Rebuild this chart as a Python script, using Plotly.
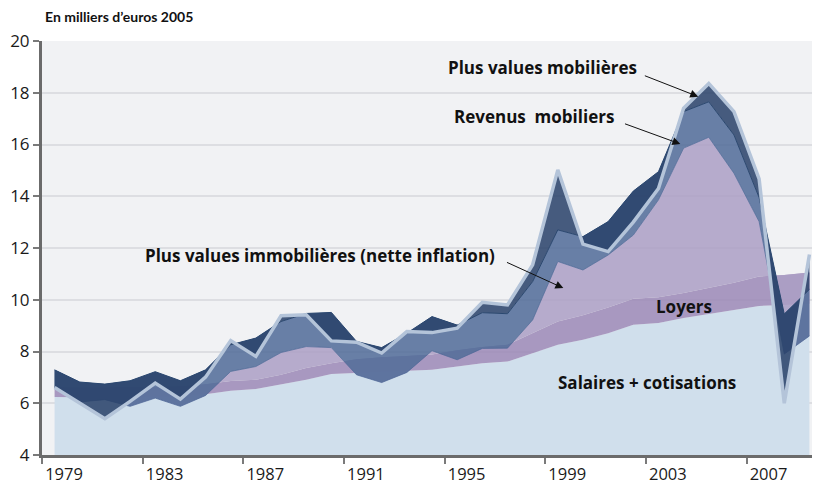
import plotly.graph_objects as go

years = list(range(1979, 2010))
salaires = [6.24, 6.22, 6.22, 6.24, 6.25, 6.26, 6.35, 6.48, 6.55, 6.72, 6.91, 7.13, 7.17, 7.20, 7.23, 7.29,
            7.42, 7.55, 7.61, 7.94, 8.26, 8.45, 8.71, 9.03, 9.10, 9.29, 9.44, 9.61, 9.76, 9.80, 9.85]
loyers = [0.37, 0.38, 0.38, 0.38, 0.38, 0.39, 0.38, 0.38, 0.36, 0.38, 0.45, 0.42, 0.53, 0.58, 0.60, 0.59,
          0.63, 0.62, 0.65, 0.76, 0.90, 0.95, 0.99, 1.01, 1.00, 0.97, 1.01, 1.05, 1.14, 1.16, 1.20]
pv_immo = [0.00, -0.55, -0.46, -0.74, -0.43, -0.77, -0.43, 0.37, 0.51, 0.86, 0.83, 0.60, -0.60, -0.98, -0.64, 0.15,
           -0.37, -0.05, -0.13, 0.52, 2.32, 1.75, 2.03, 2.46, 3.76, 5.60, 5.83, 4.23, 2.12, -3.06, -2.45]
rev_mob = [0.68, 0.77, 0.60, 0.99, 1.02, 0.99, 0.99, 1.03, 1.10, 1.20, 1.28, 1.36, 1.29, 1.35, 1.52, 1.32,
           1.34, 1.38, 1.33, 1.48, 1.22, 1.29, 1.29, 1.70, 1.09, 1.41, 1.37, 1.48, 0.93, 1.55, 1.80]
pv_mob = [-0.68, -0.81, -1.34, -0.80, -0.44, -0.71, -0.28, 0.16, -0.71, 0.22, -0.05, -1.10, -0.03, -0.21, 0.06, -0.62,
          -0.12, 0.40, 0.34, 0.65, 2.32, -0.29, -1.16, -1.20, -0.65, 0.13, 0.71, 0.90, 0.72, -3.45, 1.35]
tick_years = [1979, 1983, 1987, 1991, 1995, 1999, 2003, 2007]
y_ticks = [4, 6, 8, 10, 12, 14, 16, 18, 20]

total = [a + b + c + d + e for a, b, c, d, e in zip(salaires, loyers, pv_immo, rev_mob, pv_mob)]

FONT = "'Open Sans', sans-serif"
TFONT = "Lato, sans-serif"

fig = go.Figure()
fig.add_trace(go.Scatter(x=years, y=salaires, stackgroup="s", mode="lines",
                         line=dict(width=0, color="rgb(208,223,236)"), fillcolor="rgb(208,223,236)",
                         name="Salaires + cotisations"))
fig.add_trace(go.Scatter(x=years, y=loyers, stackgroup="s", mode="lines",
                         line=dict(width=0, color="rgba(155,136,182,0.85)"), fillcolor="rgba(155,136,182,0.85)",
                         name="Loyers"))
fig.add_trace(go.Scatter(x=years, y=pv_immo, stackgroup="s", mode="lines",
                         line=dict(width=0.8, color="rgba(76,103,150,0.9)"), fillcolor="rgba(172,159,196,0.85)",
                         name="Plus values immobilières"))
fig.add_trace(go.Scatter(x=years, y=rev_mob, stackgroup="s", mode="lines",
                         line=dict(width=1, color="rgb(43,72,112)"), fillcolor="rgba(80,107,152,0.85)",
                         name="Revenus mobiliers"))
fig.add_trace(go.Scatter(x=years, y=pv_mob, stackgroup="s", mode="lines",
                         line=dict(width=0, color="rgba(40,65,105,0.85)"), fillcolor="rgba(40,65,105,0.85)",
                         name="Plus values mobilières"))
fig.add_trace(go.Scatter(x=years, y=total, mode="lines",
                         line=dict(width=3.5, color="rgb(180,196,217)"), name="Total"))

annots = [
    dict(text="<b>Plus values mobilières</b>", x=1998.39, y=18.97),
    dict(text="<b>Revenus  mobiliers</b>", x=1998.04, y=17.1),
    dict(text="<b>Plus values immobilières (nette inflation)</b>", x=1989.56, y=11.70),
    dict(text="<b>Loyers</b>", x=2004.01, y=9.74),
    dict(text="<b>Salaires + cotisations</b>", x=2002.56, y=6.80),
]
annotations = []
for a in annots:
    annotations.append(dict(text=a["text"], x=a["x"], y=a["y"], xref="x", yref="y", showarrow=False,
                            font=dict(family=FONT, size=17, color="#111111"), xanchor="center", yanchor="middle"))

arrows = [
    ((2002.4, 18.68), (2004.58, 17.85)),
    ((2001.61, 16.82), (2003.87, 16.02)),
    ((1996.92, 11.47), (1999.22, 10.45)),
]
for (tx, ty), (hx, hy) in arrows:
    annotations.append(dict(text="", x=hx, y=hy, ax=tx, ay=ty, xref="x", yref="y", axref="x", ayref="y",
                            showarrow=True, arrowhead=2, arrowsize=1.6, arrowwidth=1, arrowcolor="#111111",
                            standoff=0, startstandoff=0))

# The page has an 8px body margin: the figure is placed at (8, 8) in the window.
# Plot area in window pixels: x 42..820, y 41..455  ->  figure margins below.
OFF = 8
L, T, B = 42 - OFF, 41 - OFF, 30
W, H = 820 - OFF, 485 - OFF
plot_w, plot_h = W - L, H - T - B

annotations.append(dict(text="<b>En milliers d’euros 2005</b>", x=(43 - 42) / plot_w, y=(455 - 17) / plot_h,
                        xref="paper", yref="paper", showarrow=False, xanchor="left", yanchor="middle",
                        font=dict(family=TFONT, size=14, color="#111111")))

fig.update_layout(
    width=W, height=H,
    margin=dict(l=L, r=0, t=T, b=B, autoexpand=False),
    paper_bgcolor="white",
    plot_bgcolor="rgb(241,242,244)",
    showlegend=False,
    annotations=annotations,
    font=dict(family=FONT, size=17, color="#1a1a1a"),
)
fig.update_xaxes(range=[1978.5, 2009.42], showgrid=False, zeroline=False, automargin=False,
                 tickvals=[y - 0.5 for y in tick_years], ticktext=[str(y) for y in tick_years],
                 ticks="outside", ticklen=6, tickwidth=1.5, tickcolor="#7a7a7a",
                 showline=True, linecolor="#6b6b6b", linewidth=3,
                 ticklabelshift=22, ticklabelstandoff=-4,
                 tickfont=dict(family=FONT, size=16.5, color="#1a1a1a"))
fig.update_yaxes(range=[4, 20], tickvals=y_ticks, showgrid=True, gridcolor="rgb(221,222,226)", gridwidth=1.5,
                 zeroline=False, automargin=False, ticks="outside", ticklen=6, tickwidth=1.5, tickcolor="#7a7a7a",
                 showline=True, linecolor="#6b6b6b", linewidth=3,
                 tickfont=dict(family=FONT, size=17, color="#1a1a1a"))

fig.write_html("out.html")
